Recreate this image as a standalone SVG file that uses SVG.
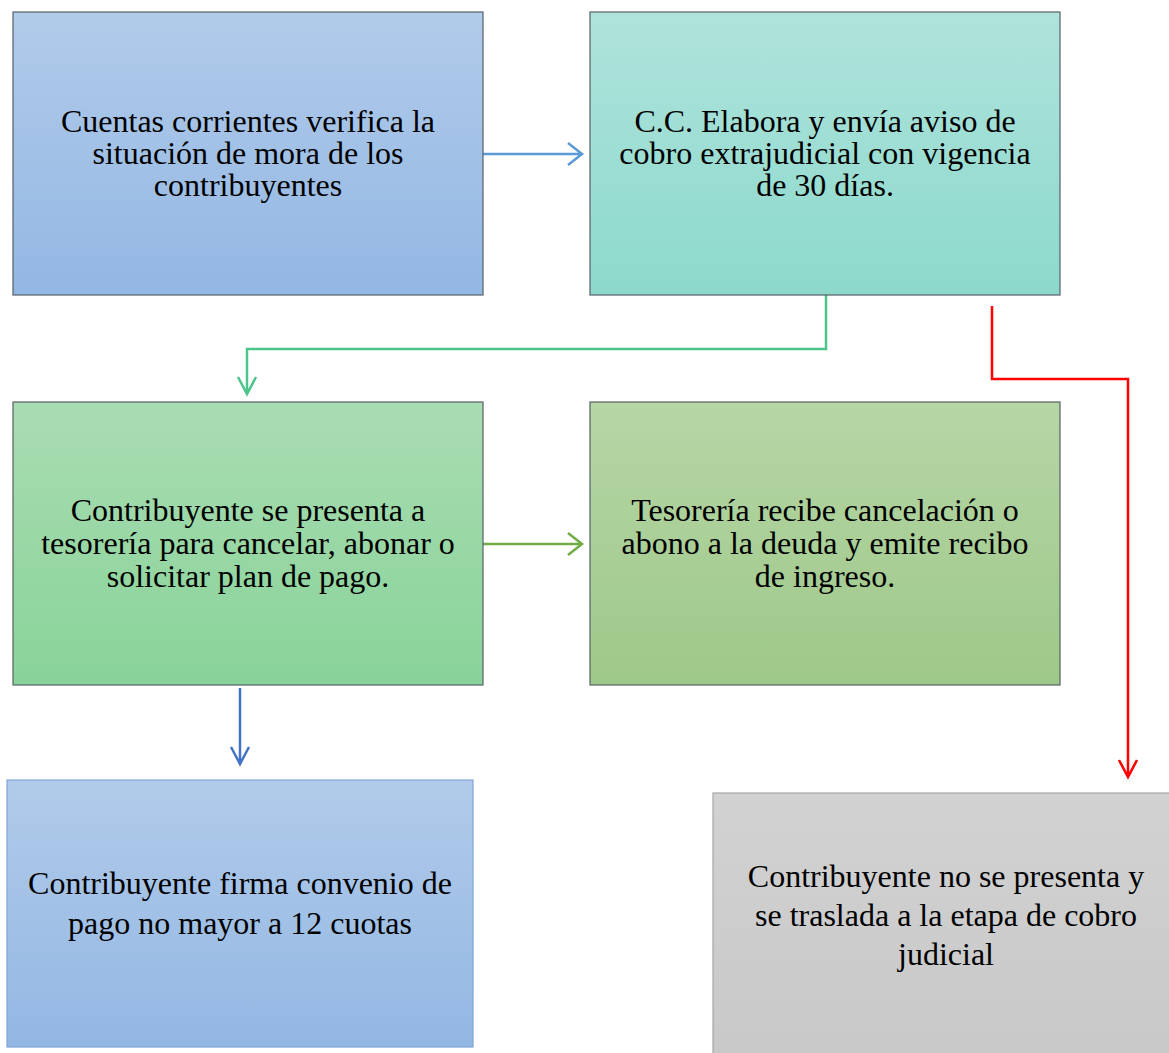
<svg xmlns="http://www.w3.org/2000/svg" width="1169" height="1053" viewBox="0 0 1169 1053">
<style>
.t{font-family:"Liberation Serif","Times New Roman",serif;font-size:32px;fill:#000;text-anchor:middle}
.b{stroke:#555f66;stroke-width:1.2}
.c{fill:none;stroke-width:2.5}
</style>
<defs>
<linearGradient id="gBlue" x1="0" y1="0" x2="0" y2="1"><stop offset="0" stop-color="#b1cbea"/><stop offset="1" stop-color="#93b7e3"/></linearGradient>
<linearGradient id="gTeal" x1="0" y1="0" x2="0" y2="1"><stop offset="0" stop-color="#afe3dc"/><stop offset="1" stop-color="#8cd9cc"/></linearGradient>
<linearGradient id="gGreen" x1="0" y1="0" x2="0" y2="1"><stop offset="0" stop-color="#aadcb2"/><stop offset="1" stop-color="#88d399"/></linearGradient>
<linearGradient id="gOlive" x1="0" y1="0" x2="0" y2="1"><stop offset="0" stop-color="#b6d6a6"/><stop offset="1" stop-color="#9ec889"/></linearGradient>
<linearGradient id="gGray" x1="0" y1="0" x2="0" y2="1"><stop offset="0" stop-color="#d2d2d2"/><stop offset="1" stop-color="#c8c8c8"/></linearGradient>
</defs>
<g id="connectors">
<path class="c" stroke="#5b9bd5" d="M483,154 H582 M568,143 L582,154 L568,165"/>
<path class="c" stroke="#4cc58b" d="M826,295 V349 H247 V394 M238,377 L247,394 L256,377"/>
<path class="c" stroke="#ff0000" d="M992,306 V379 H1128 V777 M1119,760 L1128,777 L1137,760"/>
<path class="c" stroke="#70ad47" d="M483,544 H582 M568,533 L582,544 L568,555"/>
<path class="c" stroke="#4472c4" d="M240,688 V764 M231,747 L240,764 L249,747"/>
</g>
<g id="node1">
<rect class="b" x="13" y="12" width="470" height="283" fill="url(#gBlue)"/>
<text class="t" x="248" y="132">Cuentas corrientes verifica la</text>
<text class="t" x="248" y="164">situación de mora de los</text>
<text class="t" x="248" y="196">contribuyentes</text>
</g>
<g id="node2">
<rect class="b" x="590" y="12" width="470" height="283" fill="url(#gTeal)"/>
<text class="t" x="825" y="132">C.C. Elabora y envía aviso de</text>
<text class="t" x="825" y="164">cobro extrajudicial con vigencia</text>
<text class="t" x="825" y="196">de 30 días.</text>
</g>
<g id="node3">
<rect class="b" x="13" y="402" width="470" height="283" fill="url(#gGreen)"/>
<text class="t" x="248" y="521">Contribuyente se presenta a</text>
<text class="t" x="248" y="554">tesorería para cancelar, abonar o</text>
<text class="t" x="248" y="587">solicitar plan de pago.</text>
</g>
<g id="node4">
<rect class="b" x="590" y="402" width="470" height="283" fill="url(#gOlive)"/>
<text class="t" x="825" y="521">Tesorería recibe cancelación o</text>
<text class="t" x="825" y="554">abono a la deuda y emite recibo</text>
<text class="t" x="825" y="587">de ingreso.</text>
</g>
<g id="node5">
<rect x="7" y="780" width="466" height="267" fill="url(#gBlue)" stroke="#7fa6d6" stroke-width="1.2"/>
<text class="t" x="240" y="894">Contribuyente firma convenio de</text>
<text class="t" x="240" y="934">pago no mayor a 12 cuotas</text>
</g>
<g id="node6">
<rect x="713" y="793" width="460" height="265" fill="url(#gGray)" stroke="#a6a6a6" stroke-width="1.2"/>
<text class="t" x="946" y="887">Contribuyente no se presenta y</text>
<text class="t" x="946" y="926">se traslada a la etapa de cobro</text>
<text class="t" x="946" y="965">judicial</text>
</g>
</svg>
